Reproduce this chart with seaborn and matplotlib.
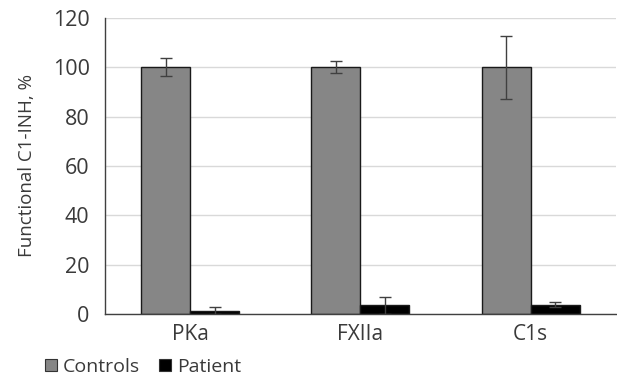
import numpy as np
import pandas as pd
import matplotlib
matplotlib.use("Agg")
import matplotlib.pyplot as plt
import seaborn as sns
from matplotlib.patches import Rectangle

# Data
categories = ["PKa", "FXIIa", "C1s"]
controls = [100.0, 100.0, 100.0]
controls_err = [3.6, 2.5, 12.7]
patient = [1.3, 3.4, 3.8]
patient_err = [1.3, 3.3, 1.0]
groups = ["Controls", "Patient"]

df = pd.DataFrame({
    "target": categories * 2,
    "group": [groups[0]] * 3 + [groups[1]] * 3,
    "value": controls + patient,
})
errs = {groups[0]: controls_err, groups[1]: patient_err}

sns.set_style("white")
plt.rcParams["font.family"] = ["Open Sans", "DejaVu Sans"]

fig = plt.figure(figsize=(6.17, 3.80), dpi=100)
ax = fig.add_axes([0.170, 0.174, 0.828, 0.779])

sns.barplot(data=df, x="target", y="value", hue="group", order=categories,
            hue_order=groups, palette=["#868686", "#000000"], errorbar=None,
            width=0.575, edgecolor="#1a1a1a", linewidth=1.0, saturation=1,
            legend=False, ax=ax, zorder=2)

# error bars placed on the bar centres
for cont, g in zip(ax.containers, groups):
    xs = [p.get_x() + p.get_width() / 2 for p in cont.patches]
    hs = [p.get_height() for p in cont.patches]
    ax.errorbar(xs, hs, yerr=errs[g], fmt="none", ecolor="#404040",
                elinewidth=1.0, capsize=4, capthick=1.0, zorder=3)

ax.set_ylim(0, 120)
ax.set_yticks(np.arange(0, 121, 20))
ax.set_xlim(-0.5, 2.5)
ax.yaxis.grid(True, color="#d9d9d9", linewidth=1.0, zorder=0)
ax.set_axisbelow(True)
for s in ["top", "right"]:
    ax.spines[s].set_visible(False)
ax.spines["left"].set_color("#404040")
ax.spines["bottom"].set_color("#404040")
ax.spines["left"].set_linewidth(1.0)
ax.spines["bottom"].set_linewidth(1.0)
ax.tick_params(axis="y", length=0, labelsize=15.5, colors="#3a3a3a", pad=11)
ax.tick_params(axis="x", length=0, labelsize=15, colors="#3a3a3a", pad=7)
ax.set_xlabel("")
ax.set_ylabel("Functional C1-INH, %", fontsize=13.5, color="#3a3a3a", labelpad=12)

handles = [Rectangle((0, 0), 1, 1, facecolor=c, edgecolor="#333333", linewidth=0.8)
           for c in ["#868686", "#000000"]]
fig.legend(handles, groups, loc="lower left", bbox_to_anchor=(0.045, -0.035),
           ncol=2, frameon=False, fontsize=14, handlelength=0.6,
           handleheight=0.6, handletextpad=0.3, columnspacing=1.0,
           labelcolor="#3a3a3a")

fig.savefig("out.png", dpi=100)
